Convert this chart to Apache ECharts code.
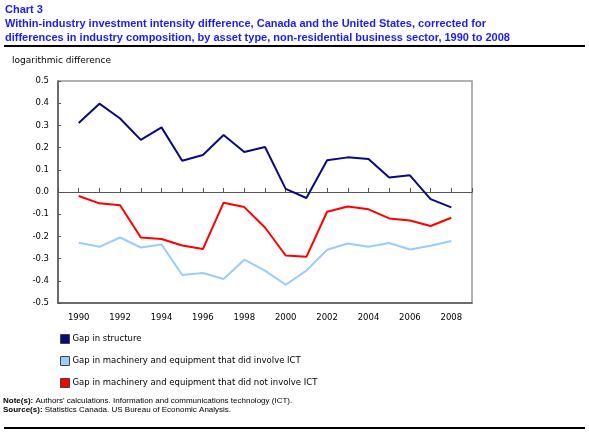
<!DOCTYPE html>
<html>
<head>
<meta charset="utf-8">
<script src="https://cdn.jsdelivr.net/npm/echarts@6/dist/echarts.min.js"></script>
<style>
html,body{margin:0;padding:0;background:#fff;}
#c{width:589px;height:439px;}
</style>
</head>
<body>
<div id="c"></div>
<script>
const years = [1990,1991,1992,1993,1994,1995,1996,1997,1998,1999,2000,2001,2002,2003,2004,2005,2006,2007,2008];
const gapStructure = [0.311,0.398,0.331,0.235,0.291,0.141,0.167,0.257,0.180,0.203,0.014,-0.027,0.143,0.156,0.149,0.065,0.075,-0.032,-0.069];
const gapIctMe = [-0.229,-0.247,-0.205,-0.250,-0.236,-0.374,-0.365,-0.392,-0.305,-0.354,-0.418,-0.354,-0.260,-0.232,-0.247,-0.230,-0.259,-0.242,-0.221];
const gapNonIctMe = [-0.018,-0.051,-0.060,-0.205,-0.212,-0.241,-0.257,-0.048,-0.068,-0.160,-0.286,-0.292,-0.089,-0.065,-0.078,-0.119,-0.128,-0.153,-0.116];
const seriesNames = ['Gap in structure','Gap in machinery and equipment that did involve ICT','Gap in machinery and equipment that did not involve ICT'];
const seriesColors = ['#0a0a80','#99ccff','#ff0000'];
const yTicks = [0.5,0.4,0.3,0.2,0.1,0.0,-0.1,-0.2,-0.3,-0.4,-0.5];

const pair = arr => years.map((y,i)=>[y,arr[i]]);
const allData = [gapStructure, gapIctMe, gapNonIctMe];

const chart = echarts.init(document.getElementById('c'), null, {renderer:'canvas'});
const titleFont = '"Liberation Sans", Arial, sans-serif';
const bodyFont = '"DejaVu Sans", Verdana, sans-serif';

chart.setOption({
  animation:false,
  backgroundColor:'#fff',
  grid:{left:58, top:81, right:117, bottom:136, show:true, borderColor:'#999', borderWidth:1.5, backgroundColor:'transparent'},
  xAxis:[
    {type:'value', min:1989, max:2009, interval:1, position:'bottom',
     axisLine:{onZero:false, lineStyle:{color:'#555', width:1.5}},
     axisTick:{show:false}, splitLine:{show:false},
     axisLabel:{color:'#000', fontFamily:bodyFont, fontSize:8.5, margin:10,
       formatter:v=> (v%2===0 ? String(v) : '')}},
    {type:'value', min:1989, max:2009, interval:1, position:'bottom',
     axisLine:{onZero:true, lineStyle:{color:'#555', width:1.2}},
     axisTick:{show:true, inside:true, length:4, lineStyle:{color:'#555', width:1}},
     axisLabel:{show:false}, splitLine:{show:false}}
  ],
  yAxis:{type:'value', min:-0.5, max:0.5, interval:0.1,
    axisLine:{show:true, lineStyle:{color:'#555', width:1.5}},
    axisTick:{show:true, inside:true, length:3, lineStyle:{color:'#555'}},
    splitLine:{show:false},
    axisLabel:{color:'#000', fontFamily:bodyFont, fontSize:8.5, margin:9,
      formatter:v=>{ const r=Math.round(v*10)/10; return (r===0?0:r).toFixed(1);} }},
  legend:{orient:'vertical', left:55, top:329, itemWidth:9, itemHeight:9, itemGap:12,
    icon:'rect', textStyle:{fontFamily:bodyFont, fontSize:8.5, color:'#000', padding:[0,0,0,-2]},
    itemStyle:{borderColor:'#444', borderWidth:1},
    data:seriesNames},
  series: allData.map((d,i)=>({
    name:seriesNames[i], type:'line', xAxisIndex:0, data:pair(d),
    symbol:'none', lineStyle:{color:seriesColors[i], width:2},
    itemStyle:{color:seriesColors[i]}, z:3+i
  })),
  graphic:[
    {type:'text', left:5, top:4, style:{text:'Chart 3', fill:'#1a1aff', font:'bold 11px '+titleFont}},
    {type:'text', left:5, top:17, style:{text:'Within-industry investment intensity difference, Canada and the United States, corrected for\ndifferences in industry composition, by asset type, non-residential business sector, 1990 to 2008', fill:'#1a1aff', font:'bold 11px '+titleFont, lineHeight:14}},
    {type:'line', shape:{x1:4, y1:46, x2:585, y2:46}, style:{stroke:'#000', lineWidth:2}},
    {type:'text', left:12, top:56, style:{text:'logarithmic difference', fill:'#000', font:'9px '+bodyFont}},
    {type:'text', left:3, top:396, style:{
      text:'{b|Note(s):} Authors\' calculations. Information and communications technology (ICT).\n{b|Source(s):} Statistics Canada. US Bureau of Economic Analysis.',
      font:'8px '+titleFont, fill:'#000', lineHeight:9,
      rich:{b:{font:'bold 8px '+titleFont, fill:'#000'}}}},
    {type:'line', shape:{x1:4, y1:428, x2:585, y2:428}, style:{stroke:'#000', lineWidth:2}}
  ]
});
</script>
</body>
</html>
